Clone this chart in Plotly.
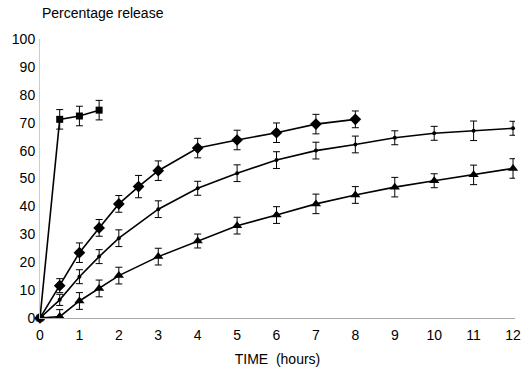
import plotly.graph_objects as go

# Data
t_sq = [0, 0.5, 1, 1.5]
y_sq = [0, 71.2, 72.4, 74.5]
e_sq = [0, 3.5, 3.5, 3.5]

t_dia = [0, 0.5, 1, 1.5, 2, 2.5, 3, 4, 5, 6, 7, 8]
y_dia = [0, 11.6, 23.4, 32.3, 40.9, 47.1, 52.8, 60.9, 63.8, 66.4, 69.5, 71.2]
e_dia = [0, 2.5, 3.5, 3, 3, 4, 3.5, 3.5, 3.5, 3.5, 3.5, 3]

t_dot = [0, 0.5, 1, 1.5, 2, 3, 4, 5, 6, 7, 8, 9, 10, 11, 12]
y_dot = [0, 6.5, 14.8, 22.0, 28.6, 39.0, 46.5, 51.9, 56.6, 60.0, 62.2, 64.6, 66.2, 67.1, 68.0]
e_dot = [0, 2, 2.5, 2.5, 3, 3, 2.5, 3, 3, 3, 3, 2.5, 2.5, 3.5, 2.5]

t_tri = [0, 0.5, 1, 1.5, 2, 3, 4, 5, 6, 7, 8, 9, 10, 11, 12]
y_tri = [0, 0.5, 6.1, 10.6, 15.2, 22.0, 27.6, 33.1, 36.9, 40.9, 44.1, 46.9, 49.2, 51.3, 53.6]
e_tri = [0, 2.5, 3, 3, 3, 3, 2.5, 3, 3, 3.5, 3, 3.5, 2.5, 3.5, 3.5]

x_ticks = list(range(0, 13))
y_ticks = list(range(0, 101, 10))

FONT = "Liberation Sans, Arial, sans-serif"

fig = go.Figure()

def add(t, y, e, symbol, size):
    fig.add_trace(go.Scatter(
        x=t, y=y, mode="lines+markers",
        line=dict(color="black", width=1.6),
        marker=dict(symbol=symbol, size=size, color="black"),
        error_y=dict(type="data", array=e, visible=True, color="black",
                     thickness=1, width=3.5),
        showlegend=False,
        cliponaxis=False,
    ))

add(t_sq, y_sq, e_sq, "square", 7)
add(t_dia, y_dia, e_dia, "diamond", 9)
add(t_dot, y_dot, e_dot, "circle", 4)
add(t_tri, y_tri, e_tri, "triangle-up", 9)

fig.update_layout(
    width=526, height=367,
    margin=dict(l=40, r=11, t=39, b=49),
    paper_bgcolor="white", plot_bgcolor="white",
    font=dict(family=FONT, size=14, color="black"),
    xaxis=dict(range=[0, 12.05], tickvals=x_ticks, showgrid=False, zeroline=False,
               showline=True, linecolor="#aaaaaa", linewidth=1, automargin=False,
               ticks="outside", ticklen=4, tickcolor="rgba(0,0,0,0)",
               tickfont=dict(size=14),
               title=dict(text="TIME  (hours)", font=dict(size=14), standoff=14)),
    yaxis=dict(range=[0, 100], tickvals=y_ticks, showgrid=False, zeroline=False,
               showline=True, linecolor="#cccccc", linewidth=1, ticks="",
               automargin=False,
               tickfont=dict(size=14), ticklabelstandoff=1),
    annotations=[dict(text="Percentage release", xref="paper", yref="paper",
                      x=0, y=1, xshift=0, yshift=16, xanchor="left", yanchor="bottom",
                      showarrow=False, font=dict(size=14))],
)

fig.write_html("out.html")
